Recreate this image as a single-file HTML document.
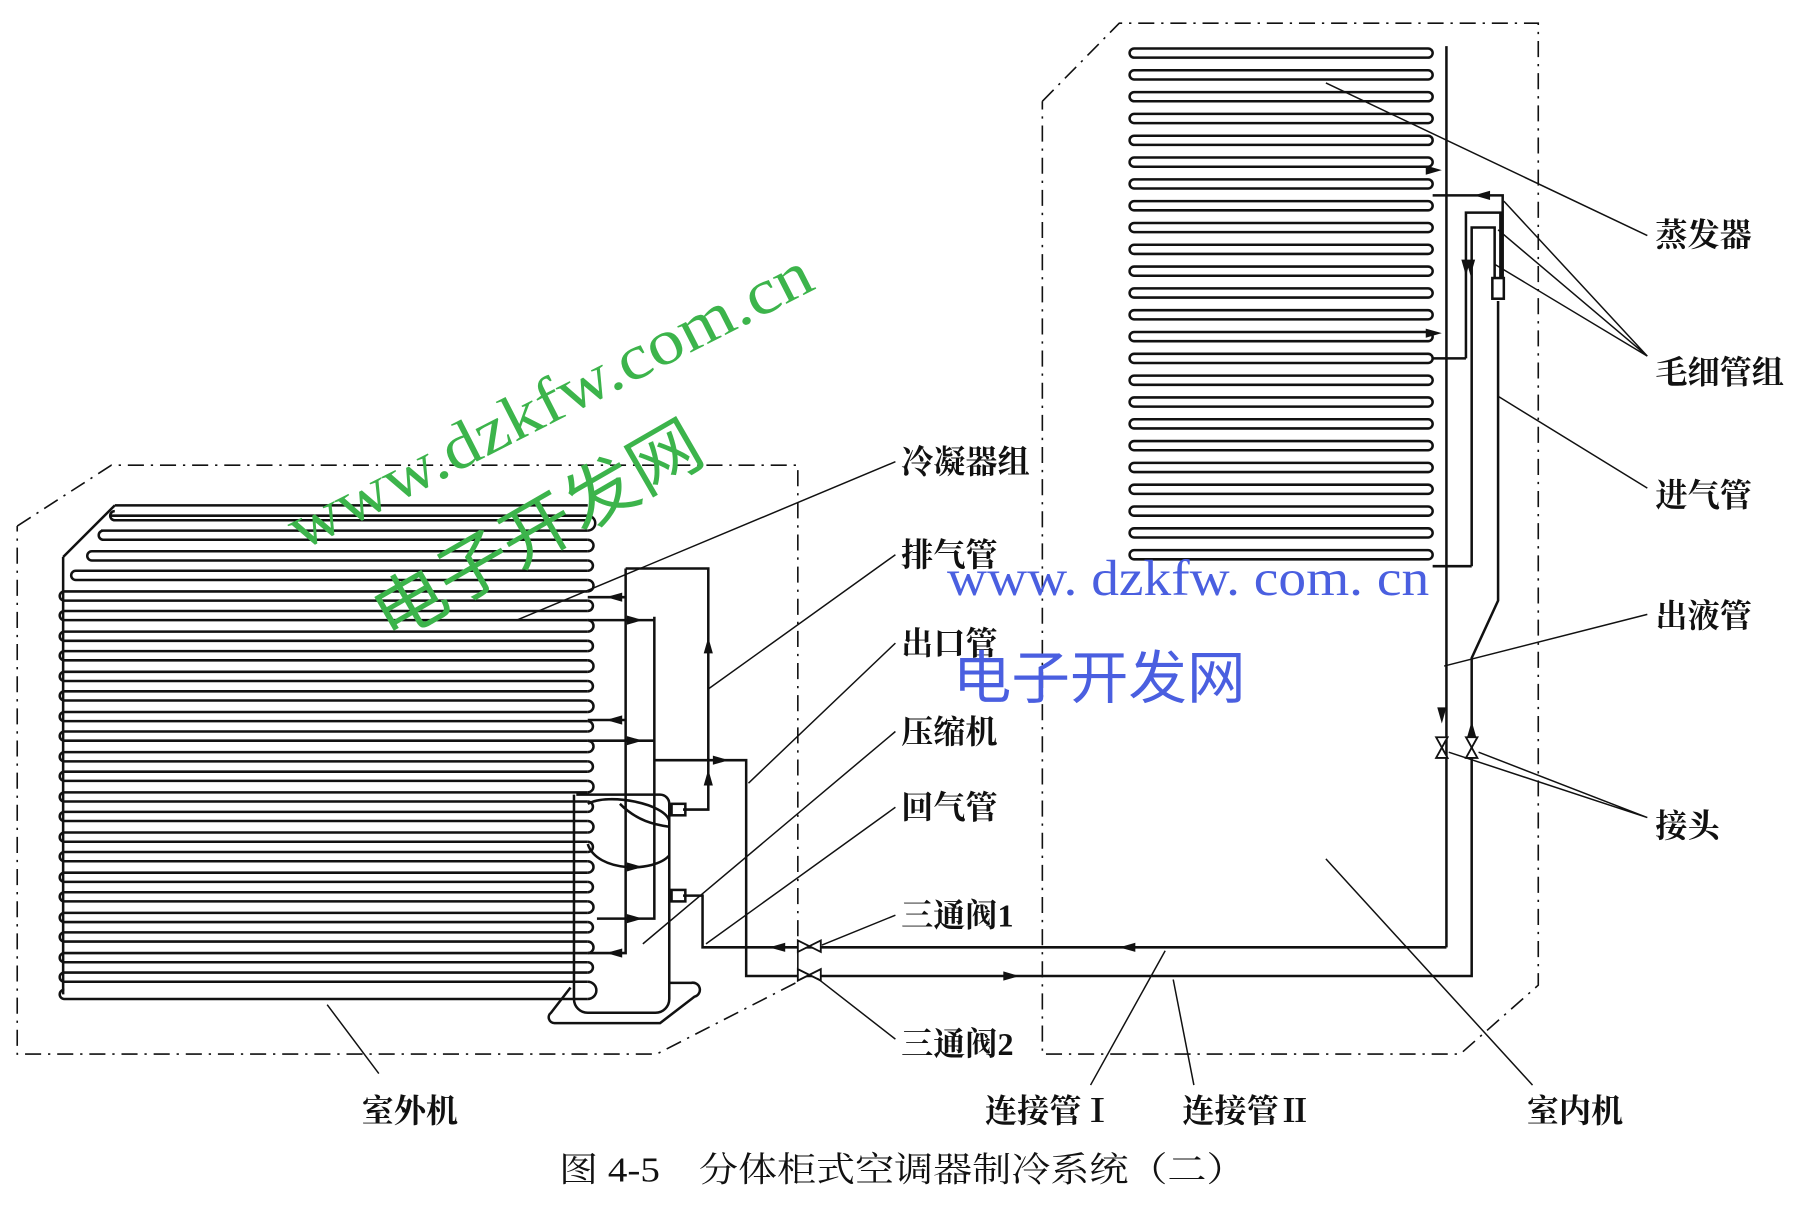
<!DOCTYPE html>
<html><head><meta charset="utf-8"><style>
html,body{margin:0;padding:0;background:#fff;width:1800px;height:1207px;overflow:hidden}
svg{display:block}
text{font-family:"Liberation Serif","Noto Serif CJK SC","Noto Sans CJK SC",serif;fill:#111}
.l{font-size:28px;font-weight:bold}
</style></head><body>
<svg width="1800" height="1207" viewBox="0 0 1568 1051" xmlns="http://www.w3.org/2000/svg">
<g fill="none" stroke="#111" stroke-width="1.4" stroke-dasharray="14,6,2,6">
<polyline points="15,458 97,405 695,405 695,855 572,918 15,918 15,458"/>
<polyline points="908,88 975,20 1340,20 1340,858 1272,918 908,918 908,88"/>
</g>
<g fill="none" stroke="#111" stroke-width="2.2">
<path d="M100,440 H512 M55,485 L100,440"/>
<path d="M100,445 a4,4 0 0 0 0,8 H512 M96,449 H512"/>
<path d="M90,462 a4,4 0 0 0 0,8 H512 M88,462 H512"/>
<path d="M80,480 a4,4 0 0 0 0,8 H512 M80,480 H512"/>
<path d="M66,497 a4,4 0 0 0 0,8 H512 M66,497 H512"/>
<path d="M56,515 a4,4 0 0 0 0,8 H512 M56,515 H512"/>
<path d="M56,532 a4,4 0 0 0 0,8 H512 M56,532 H512"/>
<path d="M56,550 a4,4 0 0 0 0,8 H512 M56,550 H512"/>
<path d="M56,567 a4,4 0 0 0 0,8 H512 M56,567 H512"/>
<path d="M56,585 a4,4 0 0 0 0,8 H512 M56,585 H512"/>
<path d="M56,602 a4,4 0 0 0 0,8 H512 M56,602 H512"/>
<path d="M56,620 a4,4 0 0 0 0,8 H512 M56,620 H512"/>
<path d="M56,637 a4,4 0 0 0 0,8 H512 M56,637 H512"/>
<path d="M56,655 a4,4 0 0 0 0,8 H512 M56,655 H512"/>
<path d="M56,672 a4,4 0 0 0 0,8 H512 M56,672 H512"/>
<path d="M56,690 a4,4 0 0 0 0,8 H512 M56,690 H512"/>
<path d="M56,707 a4,4 0 0 0 0,8 H512 M56,707 H512"/>
<path d="M56,725 a4,4 0 0 0 0,8 H512 M56,725 H512"/>
<path d="M56,742 a4,4 0 0 0 0,8 H512 M56,742 H512"/>
<path d="M56,760 a4,4 0 0 0 0,8 H512 M56,760 H512"/>
<path d="M56,777 a4,4 0 0 0 0,8 H512 M56,777 H512"/>
<path d="M56,795 a4,4 0 0 0 0,8 H512 M56,795 H512"/>
<path d="M56,812 a4,4 0 0 0 0,8 H512 M56,812 H512"/>
<path d="M56,830 a4,4 0 0 0 0,8 H512 M56,830 H512"/>
<path d="M56,847 a4,4 0 0 0 0,8 H512 M56,847 H512"/>
<path d="M56,862 a4,4 0 0 0 0,8 H512"/>
<path d="M55,485 V866"/>
<path d="M512,449 a4,4 0 0 1 0,13 M512,470 a4,4 0 0 1 0,10 M512,488 a4,4 0 0 1 0,9 M512,505 a4,4 0 0 1 0,10 M512,523 a4,4 0 0 1 0,9 M512,540 a4,4 0 0 1 0,10 M512,558 a4,4 0 0 1 0,9 M512,575 a4,4 0 0 1 0,10 M512,593 a4,4 0 0 1 0,9 M512,610 a4,4 0 0 1 0,10 M512,628 a4,4 0 0 1 0,9 M512,645 a4,4 0 0 1 0,10 M512,663 a4,4 0 0 1 0,9 M512,680 a4,4 0 0 1 0,10 M512,698 a4,4 0 0 1 0,9 M512,715 a4,4 0 0 1 0,10 M512,733 a4,4 0 0 1 0,9 M512,750 a4,4 0 0 1 0,10 M512,768 a4,4 0 0 1 0,9 M512,785 a4,4 0 0 1 0,10 M512,803 a4,4 0 0 1 0,9 M512,820 a4,4 0 0 1 0,10 M512,838 a4,4 0 0 1 0,9 M512,855 a4,4 0 0 1 0,15"/>
</g>
<!-- evaporator -->
<g fill="none" stroke="#111" stroke-width="2.2">
<path d="M1260,40 V825"/>
<rect x="984" y="42" width="264" height="8" rx="4"/>
<rect x="984" y="61" width="264" height="8" rx="4"/>
<rect x="984" y="80" width="264" height="8" rx="4"/>
<rect x="984" y="99" width="264" height="8" rx="4"/>
<rect x="984" y="118" width="264" height="8" rx="4"/>
<rect x="984" y="137" width="264" height="8" rx="4"/>
<rect x="984" y="156" width="264" height="8" rx="4"/>
<rect x="984" y="175" width="264" height="8" rx="4"/>
<rect x="984" y="194" width="264" height="8" rx="4"/>
<rect x="984" y="213" width="264" height="8" rx="4"/>
<rect x="984" y="232" width="264" height="8" rx="4"/>
<rect x="984" y="251" width="264" height="8" rx="4"/>
<rect x="984" y="270" width="264" height="8" rx="4"/>
<rect x="984" y="289" width="264" height="8" rx="4"/>
<rect x="984" y="308" width="264" height="8" rx="4"/>
<rect x="984" y="327" width="264" height="8" rx="4"/>
<rect x="984" y="346" width="264" height="8" rx="4"/>
<rect x="984" y="365" width="264" height="8" rx="4"/>
<rect x="984" y="384" width="264" height="8" rx="4"/>
<rect x="984" y="403" width="264" height="8" rx="4"/>
<rect x="984" y="422" width="264" height="8" rx="4"/>
<rect x="984" y="441" width="264" height="8" rx="4"/>
<rect x="984" y="460" width="264" height="8" rx="4"/>
<rect x="984" y="479" width="264" height="8" rx="4"/>
</g>
<!-- pipes -->
<g fill="none" stroke="#111" stroke-width="2.2">
<path d="M545,495 H617 V705 H595"/>
<path d="M545,495 V830 H512"/>
<path d="M570,537 V800 H520 M512,540 H570 M512,645 H570 M512,520 H545 M512,627 H545"/>
<path d="M570,662 H650 V850 H1282 V650 L1282,573 L1305,523 V262"/>
<path d="M595,780 H612 V825 H1260"/>
<rect x="1300" y="242" width="10" height="18"/>
<path d="M1248,170 H1309 V242 M1277,312 V185 H1307 V242 M1282,493 V198 H1302 V242 M1248,312 H1277 M1248,493 H1282"/>
<rect x="585" y="700" width="12" height="10"/>
<rect x="585" y="775" width="12" height="10"/>
<path d="M502,692 H575 a8,8 0 0 1 8,8 V870 a12,12 0 0 1 -12,12 H512 a12,12 0 0 1 -12,-12 V692"/>
<path d="M497,860 L480,882 a5,5 0 0 0 3,9 H575 L605,868 a5,5 0 0 0 -3,-12 H583"/>
<path d="M512,700 C530,690 580,700 583,715 M540,700 C555,715 570,718 583,720 M512,735 C520,760 570,760 583,745"/>
</g>
<g fill="#111">
<path d="M528,520 l14,-4 v8z M528,627 l14,-4 v8z M528,830 l14,-4 v8z M560,540 l-14,-4 v8z M560,645 l-14,-4 v8z M560,755 l-14,-4 v8z M560,800 l-14,-4 v8z M617,555 l-4,14 h8z M617,670 l-4,14 h8z M635,662 l-14,-4 v8z M670,825 l14,-4 v8z M975,825 l14,-4 v8z M888,850 l-14,-4 v8z M1284,170 l14,-4 v8z M1256,148 l-14,-4 v8z M1256,290 l-14,-4 v8z M1277,240 l-4,-14 h8z M1281,240 l-4,-14 h8z M1256,630 l-4,-14 h8z M1282,628 l-4,14 h8z"/>
</g>
<g fill="#fff" stroke="#111" stroke-width="1.6">
<path d="M695,819 L715,829 V819 L695,829 Z M695,844 L715,854 V844 L695,854 Z M1251,642 L1261,660 H1251 L1261,642 Z M1277,642 L1287,660 H1277 L1287,642 Z"/>
</g>
<g stroke="#111" stroke-width="1.3" fill="none">
<path d="M780,402 L450,540 M780,483 L617,600 M780,560 L652,682 M780,637 L560,822 M780,703 L615,822 M780,797 L716,823 M780,905 L712,852 M330,935 L285,875 M950,945 L1015,828 M1040,945 L1022,853 M1335,945 L1155,748 M1435,205 L1155,72 M1435,310 L1310,175 M1435,310 L1305,200 M1435,310 L1302,230 M1435,425 L1305,345 M1435,535 L1258,580 M1435,712 L1262,655 M1435,712 L1288,655"/>
</g>
<text class="l" x="785" y="412">冷凝器组</text>
<text class="l" x="785" y="493">排气管</text>
<text class="l" x="785" y="570">出口管</text>
<text class="l" x="785" y="647">压缩机</text>
<text class="l" x="785" y="713">回气管</text>
<text class="l" x="785" y="807">三通阀1</text>
<text class="l" x="785" y="919">三通阀2</text>
<text class="l" x="315" y="977">室外机</text>
<text class="l" x="858" y="977">连接管Ⅰ</text>
<text class="l" x="1030" y="977">连接管Ⅱ</text>
<text class="l" x="1330" y="977">室内机</text>
<text class="l" x="1442" y="214">蒸发器</text>
<text class="l" x="1442" y="334">毛细管组</text>
<text class="l" x="1442" y="441">进气管</text>
<text class="l" x="1442" y="546">出液管</text>
<text class="l" x="1442" y="729">接头</text>
<text x="487" y="1029" textLength="598" lengthAdjust="spacingAndGlyphs" style="font-size:30px">图 4-5　分体柜式空调器制冷系统（二）</text>
<text x="0" y="0" transform="translate(262,480) rotate(-27)" textLength="505" lengthAdjust="spacingAndGlyphs" style="font-size:56px;fill:#3cb44b">www.dzkfw.com.cn</text>
<text x="0" y="0" transform="translate(340,560) rotate(-30)" textLength="320" lengthAdjust="spacingAndGlyphs" style="font-size:60px;fill:#3cb44b;font-family:'Noto Sans CJK SC',sans-serif">电子开发网</text>
<text x="825" y="518" textLength="420" lengthAdjust="spacingAndGlyphs" style="font-size:44px;fill:#4a5fe0">www. dzkfw. com. cn</text>
<text x="830" y="608" textLength="255" lengthAdjust="spacingAndGlyphs" style="font-size:50px;fill:#4a5fe0;font-family:'Noto Sans CJK SC',sans-serif">电子开发网</text>
</svg>
</body></html>
